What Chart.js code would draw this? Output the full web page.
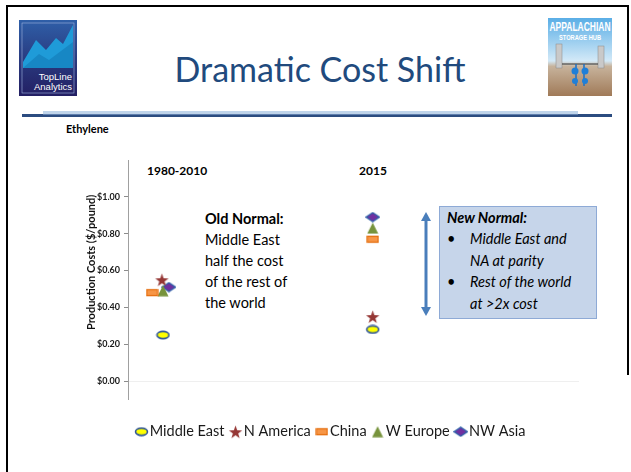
<!DOCTYPE html>
<html>
<head>
<meta charset="utf-8">
<script src="https://cdn.jsdelivr.net/npm/chart.js@4.4.1/dist/chart.umd.min.js"></script>
<style>
  html, body { margin: 0; padding: 0; background: #fff; }
  body { width: 631px; height: 472px; position: relative; overflow: hidden; font-family: Lato, "Open Sans", sans-serif; }
  .abs { position: absolute; }
  .txt { white-space: nowrap; color: #000; }
</style>
</head>
<body>
<!-- slide frame -->
<div class="abs" style="left:6px;top:5px;width:623px;height:2px;background:#000"></div>
<div class="abs" style="left:6px;top:5px;width:2px;height:467px;background:#000"></div>
<div class="abs" style="left:627px;top:5px;width:2px;height:370px;background:#000"></div>

<!-- left logo -->
<svg class="abs" style="left:19px;top:20px" width="58" height="76" viewBox="0 0 58 76">
  <defs>
    <linearGradient id="lg1" x1="0" y1="0" x2="0" y2="1">
      <stop offset="0" stop-color="#2f5fa8"/>
      <stop offset="0.6" stop-color="#28357a"/>
      <stop offset="1" stop-color="#231f63"/>
    </linearGradient>
  </defs>
  <rect width="58" height="76" fill="url(#lg1)"/>
  <rect x="3" y="3" width="52" height="70" fill="none" stroke="#9fb3dd" stroke-width="0.6"/>
  <polygon points="4,48 4,42 17,20 27,30 37,18 44,24 54,5 54,48" fill="#1f9bd8"/>
  <polygon points="4,48 20,34 30,40 54,22 54,48" fill="#1787c4"/>
  <text x="53" y="60" font-family="Liberation Sans, Arial" font-size="9.5" fill="#fff" text-anchor="end">TopLine</text>
  <text x="53" y="70" font-family="Liberation Sans, Arial" font-size="9.5" fill="#fff" text-anchor="end">Analytics</text>
</svg>

<!-- right logo -->
<svg class="abs" style="left:548px;top:18px" width="64" height="78" viewBox="0 0 64 78">
  <defs>
    <linearGradient id="lg2" x1="0" y1="0" x2="0" y2="1">
      <stop offset="0" stop-color="#5aaee6"/>
      <stop offset="0.55" stop-color="#d3e9f7"/>
      <stop offset="0.62" stop-color="#c7b39c"/>
      <stop offset="1" stop-color="#a07a58"/>
    </linearGradient>
  </defs>
  <rect width="64" height="78" fill="url(#lg2)"/>
  <text x="32" y="13" font-family="Liberation Sans Narrow, Liberation Sans" font-weight="bold" font-size="13" fill="#fff" text-anchor="middle" textLength="61" lengthAdjust="spacingAndGlyphs">APPALACHIAN</text>
  <text x="32" y="22" font-family="Liberation Sans Narrow, Liberation Sans" font-weight="bold" font-size="7.5" fill="#fff" text-anchor="middle" textLength="42" lengthAdjust="spacingAndGlyphs">STORAGE HUB</text>
  <rect x="8" y="26" width="6" height="24" fill="#c9c9c9" stroke="#888" stroke-width="0.5"/>
  <rect x="50" y="28" width="6" height="22" fill="#c9c9c9" stroke="#888" stroke-width="0.5"/>
  <line x1="14" y1="46" x2="50" y2="46" stroke="#333" stroke-width="1.2"/>
  <line x1="28" y1="46" x2="28" y2="68" stroke="#1f6fc0" stroke-width="1.5"/>
  <line x1="36" y1="46" x2="36" y2="68" stroke="#1f6fc0" stroke-width="1.5"/>
  <circle cx="27" cy="53" r="3.5" fill="#1f7fd8"/>
  <circle cx="37" cy="53" r="3.5" fill="#1f7fd8"/>
  <circle cx="27" cy="63" r="3" fill="#1f7fd8"/>
  <circle cx="37" cy="63" r="3" fill="#1f7fd8"/>
</svg>

<!-- title -->
<div class="abs txt" style="left:0;width:640px;top:48px;text-align:center;font-size:34px;font-weight:400;color:#214a7d">Dramatic Cost Shift</div>

<!-- rule -->
<div class="abs" style="left:22px;top:114px;width:590px;height:3px;background:#2b4c80"></div>
<div class="abs" style="left:43px;top:111px;width:535px;height:4px;background:#bfd4ea"></div>
<div class="abs" style="left:43px;top:114px;width:535px;height:1px;background:#5f7fae"></div>

<div class="abs txt" style="left:66px;top:122px;font-size:11px;font-weight:bold">Ethylene</div>
<div class="abs txt" style="left:147px;top:163px;font-size:12px;font-weight:bold">1980-2010</div>
<div class="abs txt" style="left:359px;top:163px;font-size:12px;font-weight:bold">2015</div>

<div class="abs txt" style="left:205px;top:208px;font-size:14.5px;line-height:21px">
  <b>Old Normal:</b><br>Middle East<br>half the cost<br>of the rest of<br>the world
</div>

<!-- arrow -->
<svg class="abs" style="left:418px;top:210px" width="16" height="110">
  <line x1="8" y1="8" x2="8" y2="100" stroke="#4a7ebb" stroke-width="3"/>
  <polygon points="8,2 3,11 13,11" fill="#4a7ebb"/>
  <polygon points="8,106 3,97 13,97" fill="#4a7ebb"/>
</svg>

<!-- new normal box -->
<div class="abs" style="left:439px;top:206px;width:156px;height:111px;background:#c6d5ea;border:1px solid #8eaad6"></div>
<div class="abs txt" style="left:447px;top:207px;font-size:14.5px;line-height:21.5px;font-style:italic">
  <b>New Normal:</b>
</div>
<div class="abs txt" style="left:447px;top:228px;font-size:14.5px;line-height:21.5px;font-style:italic">
  <div><span style="display:inline-block;width:23px;font-style:normal">•</span>Middle East and</div>
  <div><span style="display:inline-block;width:23px"></span>NA at parity</div>
  <div><span style="display:inline-block;width:23px;font-style:normal">•</span>Rest of the world</div>
  <div><span style="display:inline-block;width:23px"></span>at &gt;2x cost</div>
</div>

<div class="abs" style="left:80px;top:150px;width:506px;height:300px">
  <canvas id="chart" width="506" height="300"></canvas>
</div>

<script>
// series and values
var series = ["Middle East", "N America", "China", "W Europe", "NW Asia"];
var periods = ["1980-2010", "2015"];
var periodX = [1, 7];
var jitter1980 = [0, -0.03, -0.31, 0, 0.17];
var cost1980 = [0.25, 0.55, 0.48, 0.49, 0.51];
var cost2015 = [0.28, 0.35, 0.77, 0.83, 0.89];
var yTicks = [0, 0.2, 0.4, 0.6, 0.8, 1.0];

function marker(w, h, draw) {
    var c = document.createElement("canvas");
    c.width = w;
    c.height = h;
    draw(c.getContext("2d"), w, h);
    return c;
}

var markers = [
    marker(15, 10, function (g, w, h) {
        g.beginPath();
        g.ellipse(w / 2, h / 2, 6, 3.6, 0, 0, Math.PI * 2);
        g.fillStyle = "#ffff00";
        g.fill();
        g.lineWidth = 1.6;
        g.strokeStyle = "#2e5597";
        g.stroke();
    }),
    marker(15, 15, function (g, w, h) {
        g.beginPath();
        for (var i = 0; i < 10; i++) {
            var r = i % 2 ? 2.8 : 7;
            var a = -Math.PI / 2 + i * Math.PI / 5;
            g.lineTo(w / 2 + r * Math.cos(a), h / 2 + 0.8 + r * Math.sin(a));
        }
        g.closePath();
        g.fillStyle = "#953735";
        g.fill();
    }),
    marker(13, 9, function (g, w, h) {
        g.fillStyle = "#f79646";
        g.fillRect(1, 1.5, 11, 6);
        g.lineWidth = 1.2;
        g.strokeStyle = "#e46c0a";
        g.strokeRect(1, 1.5, 11, 6);
    }),
    marker(12, 12, function (g, w, h) {
        g.beginPath();
        g.moveTo(6, 0.5);
        g.lineTo(11.5, 11.5);
        g.lineTo(0.5, 11.5);
        g.closePath();
        g.fillStyle = "#77933c";
        g.fill();
    }),
    marker(15, 11, function (g, w, h) {
        g.beginPath();
        g.moveTo(7.5, 1);
        g.lineTo(14, 5.5);
        g.lineTo(7.5, 10);
        g.lineTo(1, 5.5);
        g.closePath();
        g.fillStyle = "#7030a0";
        g.fill();
        g.lineWidth = 1.4;
        g.strokeStyle = "#2e5fa8";
        g.stroke();
    })
];

var datasets = series.map(function (name, i) {
    return {
        label: name,
        data: [
            { x: periodX[0] + jitter1980[i], y: cost1980[i] },
            { x: periodX[1], y: cost2015[i] }
        ],
        pointStyle: markers[i],
        pointRadius: 6,
        showLine: false
    };
});

function draw() {
    Chart.defaults.font.family = "Lato";
    var ctx = document.getElementById("chart").getContext("2d");
    var myChart = new Chart(ctx, {
        type: "scatter",
        data: { datasets: datasets },
        options: {
            responsive: false,
            animation: false,
            devicePixelRatio: 1,
            layout: { padding: { top: 10, bottom: 1, left: 0, right: 0 } },
            plugins: {
                tooltip: { enabled: false },
                legend: {
                    position: "bottom",
                    labels: {
                        usePointStyle: true,
                        pointStyleWidth: 2,
                        padding: 10,
                        color: "#1a1a1a",
                        font: { size: 14.5 }
                    }
                }
            },
            scales: {
                x: {
                    type: "linear",
                    min: 0,
                    max: 12.9,
                    ticks: { display: false },
                    grid: { display: false },
                    border: { display: false },
                    afterFit: function (axis) { axis.height = 15; }
                },
                y: {
                    min: -0.1,
                    max: 1.2,
                    afterBuildTicks: function (axis) {
                        axis.ticks = yTicks.map(function (v) { return { value: v }; });
                    },
                    afterFit: function (axis) { axis.width = 48; },
                    ticks: {
                        padding: 4,
                        color: "#1a1a1a",
                        font: { size: 9, weight: "bold" },
                        callback: function (v) { return "$" + Number(v).toFixed(2); }
                    },
                    grid: {
                        tickLength: 4,
                        tickColor: "#8c8c8c",
                        color: function (c) { return c.tick && c.tick.value === 0 ? "#efefef" : "rgba(0,0,0,0)"; }
                    },
                    border: { color: "#a0a0a0", width: 1 },
                    title: {
                        display: true,
                        text: "             Production Costs ($/pound)",
                        color: "#111",
                        font: { size: 11, weight: "bold" },
                        padding: { top: 5, bottom: 0 }
                    }
                }
            }
        }
    });
}

Promise.all([
    document.fonts.load("bold 11px Lato"),
    document.fonts.load("14px Lato")
]).then(draw, draw);
</script>
</body>
</html>
